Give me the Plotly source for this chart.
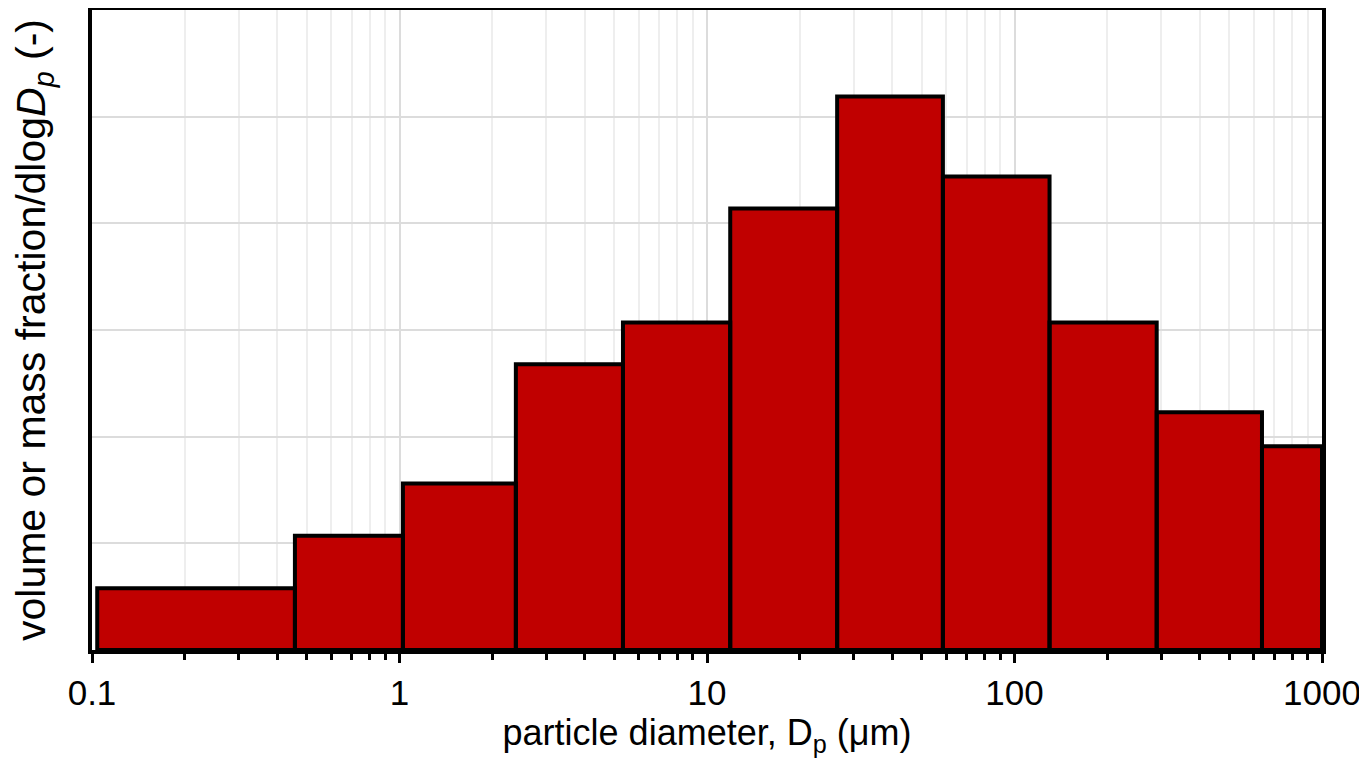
import plotly.graph_objects as go

# bin edges (µm) and heights (volume fraction / dlogDp, arbitrary units)
bin_edges = [0.104, 0.457, 1.026, 2.39, 5.33, 11.9, 26.5, 58.5, 130, 290, 638, 1000]
heights = [0.58, 1.07, 1.56, 2.68, 3.07, 4.14, 5.19, 4.44, 3.07, 2.23, 1.91]
tick_vals = [0.1, 1, 10, 100, 1000]
tick_text = ["0.1", "1", "10", "100", "1000"]
minor_vals = [m * d for d in [0.1, 1, 10, 100] for m in range(2, 10)]

xs, ys = [], []
for i, h in enumerate(heights):
    a, b = bin_edges[i], bin_edges[i + 1]
    xs += [a, a, b, b, a, None]
    ys += [0, h, h, 0, 0, None]

fig = go.Figure()
fig.add_trace(go.Scatter(
    x=xs, y=ys, mode="lines", fill="toself", fillcolor="#C00000",
    line=dict(color="black", width=4), hoverinfo="skip", showlegend=False,
))

font = dict(family="Liberation Sans, Arial, sans-serif", color="black")

# page body has an 8px margin, so the figure is sized/offset to compensate
fig.update_layout(
    width=1359, height=754,
    margin=dict(l=84, r=45, t=2, b=112),
    plot_bgcolor="white", paper_bgcolor="white",
    font=dict(size=34, **font),
    showlegend=False,
    xaxis=dict(
        type="log", range=[-1, 3], automargin=False,
        tickvals=tick_vals, ticktext=tick_text,
        showline=True, mirror=True, linecolor="black", linewidth=4,
        ticks="outside", ticklen=9, tickwidth=3, tickcolor="black",
        ticklabelstandoff=0,
        showgrid=True, gridcolor="#dcdcdc", gridwidth=1.5,
        tickfont=dict(size=35, **font),
        minor=dict(tickvals=minor_vals, ticks="outside", ticklen=6, tickwidth=3,
                   tickcolor="black", showgrid=True, gridcolor="#eeeeee",
                   gridwidth=1.5),
        title=dict(text="particle diameter, D<sub>p</sub> (μm)",
                   font=dict(size=36, **font), standoff=5),
        zeroline=False,
    ),
    yaxis=dict(
        range=[0, 6], dtick=1, automargin=False,
        showline=True, mirror=True, linecolor="black", linewidth=4,
        showticklabels=False, ticks="",
        showgrid=True, gridcolor="#dcdcdc", gridwidth=1.5,
        zeroline=False,
        title=dict(text="volume or mass fraction/dlog<i>D<sub>p</sub></i> (-)",
                   font=dict(size=41, **font), standoff=45),
    ),
)

fig.write_html("out.html")
